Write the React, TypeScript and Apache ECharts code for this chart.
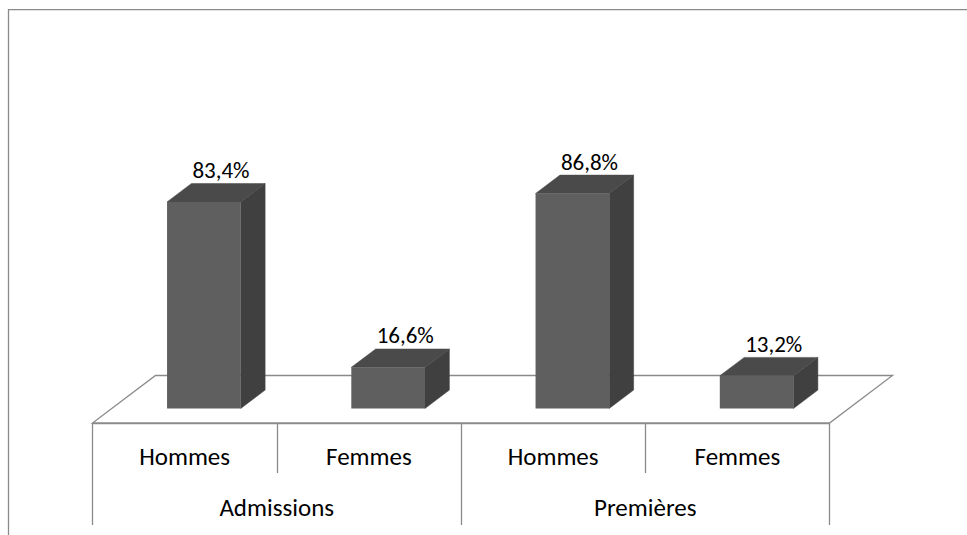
import React, { useEffect, useRef } from "react";
import * as echarts from "echarts";

const CATEGORIES = ["Hommes", "Femmes", "Hommes", "Femmes"];
const GROUPS = ["Admissions", "Premières"];
const VALUES = [83.4, 16.6, 86.8, 13.2];

const FONT = "Carlito, Calibri, Lato, 'Open Sans', sans-serif";
const LINE = "#8a8a8a";
const FRONT = "#5f5f5f";
const TOP = "#4a4a4a";
const SIDE = "#404040";
const DEPTH_X = 63;
const DEPTH_Y = -47.5;
const F1 = 0.306;
const F2 = 0.693;
const BAR_RATIO = 0.4;

export default function App() {
  const ref = useRef<HTMLDivElement>(null);
  useEffect(() => {
    if (!ref.current) return;
    const chart = echarts.init(ref.current, undefined, { renderer: "svg" });
    const option: any = {
      animation: false,
      backgroundColor: "#ffffff",
      grid: { left: 92.5, top: 175.3, width: 737, height: 247.7 },
      xAxis: [
        {
          type: "category",
          data: CATEGORIES,
          position: "bottom",
          axisLine: { show: true, lineStyle: { color: LINE, width: 1.3 } },
          axisTick: { show: true, interval: 0, length: 50, lineStyle: { color: LINE, width: 1.3 } },
          axisLabel: { interval: 0, margin: 21, fontSize: 25, color: "#000", fontFamily: FONT },
          splitLine: { show: false },
        },
        {
          type: "category",
          data: GROUPS,
          position: "bottom",
          offset: 50,
          axisLine: { show: false },
          axisTick: { show: true, interval: 0, length: 52, lineStyle: { color: LINE, width: 1.3 } },
          axisLabel: { interval: 0, margin: 22, fontSize: 25, color: "#000", fontFamily: FONT },
          splitLine: { show: false },
        },
      ],
      yAxis: { type: "value", min: 0, max: 100, show: false },
      graphic: [
        {
          type: "rect",
          shape: { x: 8.5, y: 9.7, width: 980, height: 560 },
          style: { fill: "none", stroke: LINE, lineWidth: 1.3 },
          silent: true,
          z: -10,
        },
      ],
      series: [
        {
          type: "custom",
          name: "floor",
          xAxisIndex: 0,
          clip: false,
          z: 1,
          data: [[0, 0]],
          renderItem: (params: any) => {
            const cs = params.coordSys;
            const yb = cs.y + cs.height;
            return {
              type: "polygon",
              shape: {
                points: [
                  [cs.x, yb],
                  [cs.x + cs.width, yb],
                  [cs.x + cs.width + DEPTH_X, yb + DEPTH_Y],
                  [cs.x + DEPTH_X, yb + DEPTH_Y],
                ],
              },
              style: { fill: "#ffffff", stroke: LINE, lineWidth: 1.3 },
            };
          },
        },
        {
          type: "custom",
          name: "bars",
          xAxisIndex: 0,
          clip: false,
          z: 5,
          data: VALUES.map((v, i) => [i, v]),
          renderItem: (params: any, api: any) => {
            const i = api.value(0);
            const v = api.value(1);
            const top = api.coord([i, v]);
            const base = api.coord([i, 0]);
            const cw = api.size([1, 0])[0];
            const w = cw * BAR_RATIO;
            const ox = F1 * DEPTH_X;
            const oy = F1 * DEPTH_Y;
            const bx = (F2 - F1) * DEPTH_X;
            const by = (F2 - F1) * DEPTH_Y;
            const x0 = base[0] - w / 2 + ox;
            const x1 = base[0] + w / 2 + ox;
            const yb = base[1] + oy;
            const yt = top[1] + oy;
            const label = v.toFixed(1).replace(".", ",") + "%";
            return {
              type: "group",
              children: [
                {
                  type: "polygon",
                  shape: { points: [[x1, yt], [x1 + bx, yt + by], [x1 + bx, yb + by], [x1, yb]] },
                  style: { fill: SIDE, stroke: SIDE, lineWidth: 0.5 },
                },
                {
                  type: "polygon",
                  shape: { points: [[x0, yt], [x1, yt], [x1 + bx, yt + by], [x0 + bx, yt + by]] },
                  style: { fill: TOP, stroke: TOP, lineWidth: 0.5 },
                },
                {
                  type: "rect",
                  shape: { x: x0, y: yt, width: w, height: yb - yt },
                  style: { fill: FRONT },
                },
                {
                  type: "text",
                  x: (x0 + x1) / 2 + bx * 0.7,
                  y: yt + by - 2,
                  style: {
                    text: label,
                    fontSize: 23,
                    fontFamily: FONT,
                    fill: "#000",
                    align: "center",
                    verticalAlign: "bottom",
                  },
                },
              ],
            };
          },
        },
      ],
    };
    chart.setOption(option);
    return () => chart.dispose();
  }, []);
  return (
    <div
      ref={ref}
      style={{ position: "fixed", left: 0, top: 0, width: 967, height: 535, background: "#fff" }}
    />
  );
}
